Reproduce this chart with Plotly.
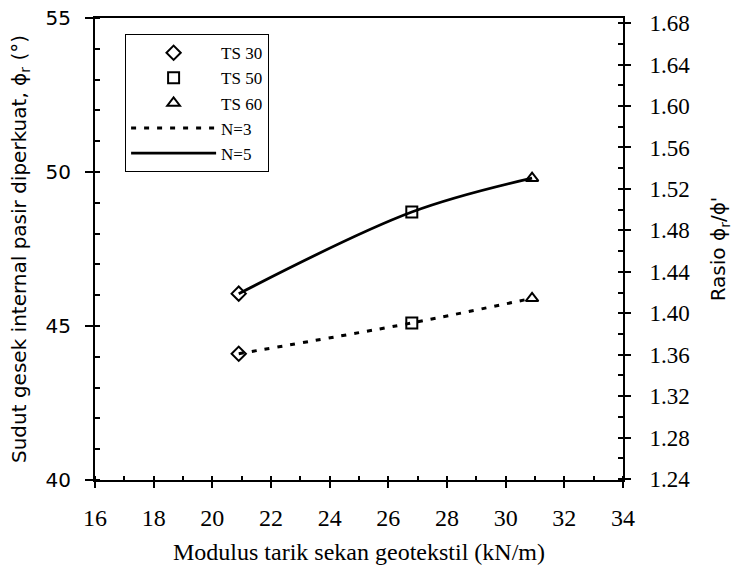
import plotly.graph_objects as go

# Data
x_modulus = [20.9, 26.8, 30.9]
n3_phi = [44.1, 45.1, 45.9]
n5_phi = [46.05, 48.7, 49.8]
ts_names = ["TS 30", "TS 50", "TS 60"]
ts_symbols = ["diamond-open", "square-open", "triangle-up-open"]

x_ticks = [16, 18, 20, 22, 24, 26, 28, 30, 32, 34]
y_ticks = [40, 45, 50, 55]
y2_ticks = [1.24, 1.28, 1.32, 1.36, 1.40, 1.44, 1.48, 1.52, 1.56, 1.60, 1.64, 1.68]

fig = go.Figure()

for i, name in enumerate(ts_names):
    fig.add_trace(go.Scatter(
        x=[x_modulus[i], x_modulus[i]], y=[n5_phi[i], n3_phi[i]],
        mode="markers", name=name,
        marker=dict(symbol=ts_symbols[i], size=11, color="black",
                    line=dict(width=2, color="black")),
    ))

fig.add_trace(go.Scatter(x=x_modulus, y=n3_phi, mode="lines", name="N=3",
                         line=dict(color="black", width=3, dash="5px,8px", shape="spline")))
fig.add_trace(go.Scatter(x=x_modulus, y=n5_phi, mode="lines", name="N=5",
                         line=dict(color="black", width=2.8, shape="spline")))
fig.add_trace(go.Scatter(x=[], y=[], yaxis="y2", showlegend=False, hoverinfo="skip"))

serif = "Liberation Serif"
sans = "DejaVu Sans"

fig.update_layout(
    width=741, height=577,
    margin=dict(l=95, r=118, t=18, b=97),
    paper_bgcolor="white", plot_bgcolor="white",
    showlegend=True,
    legend=dict(x=0.057, y=0.965, xanchor="left", yanchor="top",
                bordercolor="black", borderwidth=1, bgcolor="white",
                font=dict(family=serif, size=17, color="black"),
                tracegroupgap=0, itemwidth=85),
    xaxis=dict(range=[16, 34], tickvals=x_ticks, showline=True, linecolor="black",
               linewidth=2, mirror=True, ticks="outside", ticklen=6, tickwidth=1.5,
               tickcolor="black", showgrid=False, zeroline=False, automargin=False,
               minor=dict(ticks="inside", ticklen=4, dtick=1, tickcolor="black", showgrid=False),
               tickfont=dict(family=serif, size=24, color="black"),
               ticklabelstandoff=9,
               title=dict(text="Modulus tarik sekan geotekstil (kN/m)",
                          font=dict(family=serif, size=24, color="black"), standoff=13)),
    yaxis=dict(range=[40, 55], tickvals=y_ticks, showline=True, linecolor="black",
               linewidth=2, ticks="outside", ticklen=8, tickwidth=1.5, tickcolor="black",
               showgrid=False, zeroline=False, automargin=False,
               minor=dict(ticks="inside", ticklen=5, dtick=1, tickcolor="black", showgrid=False),
               tickfont=dict(family=sans, size=20, color="black"),
               ticklabelstandoff=10,
               title=dict(text="Sudut gesek internal pasir diperkuat, ϕ<sub>r</sub> (°)",
                          font=dict(family=sans, size=20, color="black"), standoff=14)),
    yaxis2=dict(range=[1.239, 1.685], tickvals=y2_ticks, ticktext=[f"{v:.2f}" for v in y2_ticks],
                overlaying="y", side="right", showline=True, linecolor="black", linewidth=2,
                ticks="outside", ticklen=6, tickwidth=1.5, tickcolor="black",
                showgrid=False, zeroline=False, automargin=False,
                minor=dict(ticks="inside", ticklen=5, dtick=0.02, tickcolor="black", showgrid=False),
                tickfont=dict(family=serif, size=23, color="black"),
                ticklabelstandoff=14,
                title=dict(text="Rasio ϕ<sub>r</sub>/ϕ'",
                           font=dict(family=sans, size=20, color="black"), standoff=22)),
)

fig.write_html("out.html")
